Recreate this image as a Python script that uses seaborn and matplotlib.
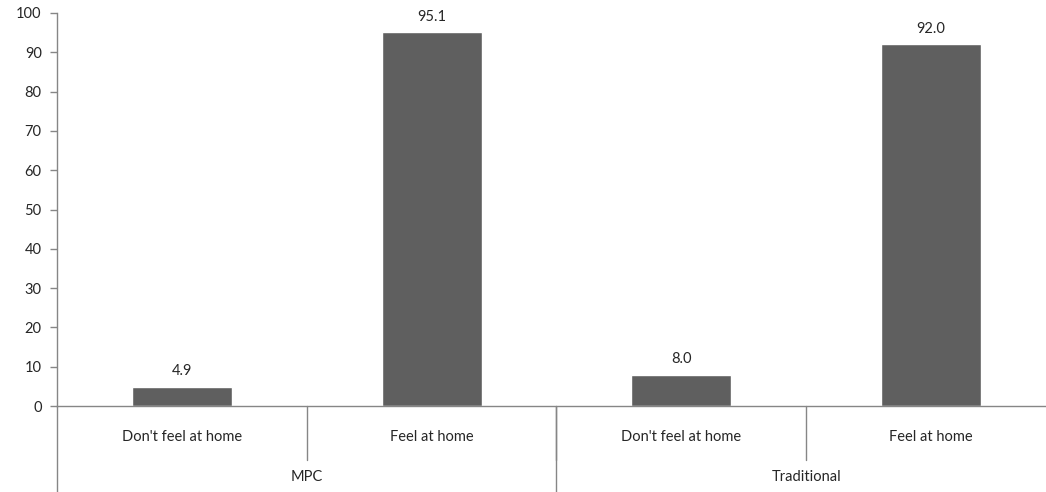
import pandas as pd
import matplotlib
matplotlib.use("Agg")
import matplotlib.pyplot as plt
import matplotlib.transforms as mtransforms
import seaborn as sns

# data
groups = ["MPC", "MPC", "Traditional", "Traditional"]
answers = ["Don't feel at home", "Feel at home", "Don't feel at home", "Feel at home"]
values = [4.9, 95.1, 8.0, 92.0]
y_ticks = [0, 10, 20, 30, 40, 50, 60, 70, 80, 90, 100]

df = pd.DataFrame({"group": groups, "answer": answers, "value": values})
df["slot"] = [f"{g}|{a}" for g, a in zip(groups, answers)]

sns.set_style("white")
plt.rcParams["font.family"] = ["Lato", "DejaVu Sans"]

fig = plt.figure(figsize=(10.46, 4.92), dpi=100)
ax = fig.add_axes([57 / 1046, 86 / 492, 1 - 57 / 1046, 393 / 492])

sns.barplot(data=df, x="slot", y="value", order=list(df["slot"]),
            color="#5f5f5f", saturation=1, width=0.4, ax=ax)

axis_grey = "#868686"
ax.set_ylim(0, 100)
ax.set_xlim(-0.5, 3.46)
ax.set_yticks(y_ticks)
ax.set_yticklabels([str(t) for t in y_ticks], fontsize=10.5)
ax.tick_params(axis="y", length=5, width=1, color=axis_grey, pad=6, left=True)
ax.set_xticks([])
ax.set_xlabel("")
ax.set_ylabel("")
for s in ["top", "right"]:
    ax.spines[s].set_visible(False)
for s in ["left", "bottom"]:
    ax.spines[s].set_color(axis_grey)
    ax.spines[s].set_linewidth(1)

# value labels
for i, v in enumerate(values):
    ax.text(i, v + 2.2, f"{v:.1f}", ha="center", va="bottom", fontsize=10.5)

# multi-level category axis
trans = mtransforms.blended_transform_factory(ax.transData, ax.transAxes)
for i, a in enumerate(answers):
    ax.text(i, -0.079, a, transform=trans, ha="center", va="center", fontsize=10.5)
    if i > 0:
        ax.plot([i - 0.5, i - 0.5], [0, -0.137], transform=trans, color=axis_grey,
                lw=1, clip_on=False)

group_names = []
for g in groups:
    if g not in group_names:
        group_names.append(g)
for j, g in enumerate(group_names):
    idx = [i for i, gg in enumerate(groups) if gg == g]
    ax.text(sum(idx) / len(idx), -0.181, g, transform=trans, ha="center", va="center",
            fontsize=10.5)
    left_edge = idx[0] - 0.5
    ax.plot([left_edge, left_edge], [0, -0.3], transform=trans, color=axis_grey,
            lw=1, clip_on=False)

fig.savefig("out.png", dpi=100)
plt.close(fig)
